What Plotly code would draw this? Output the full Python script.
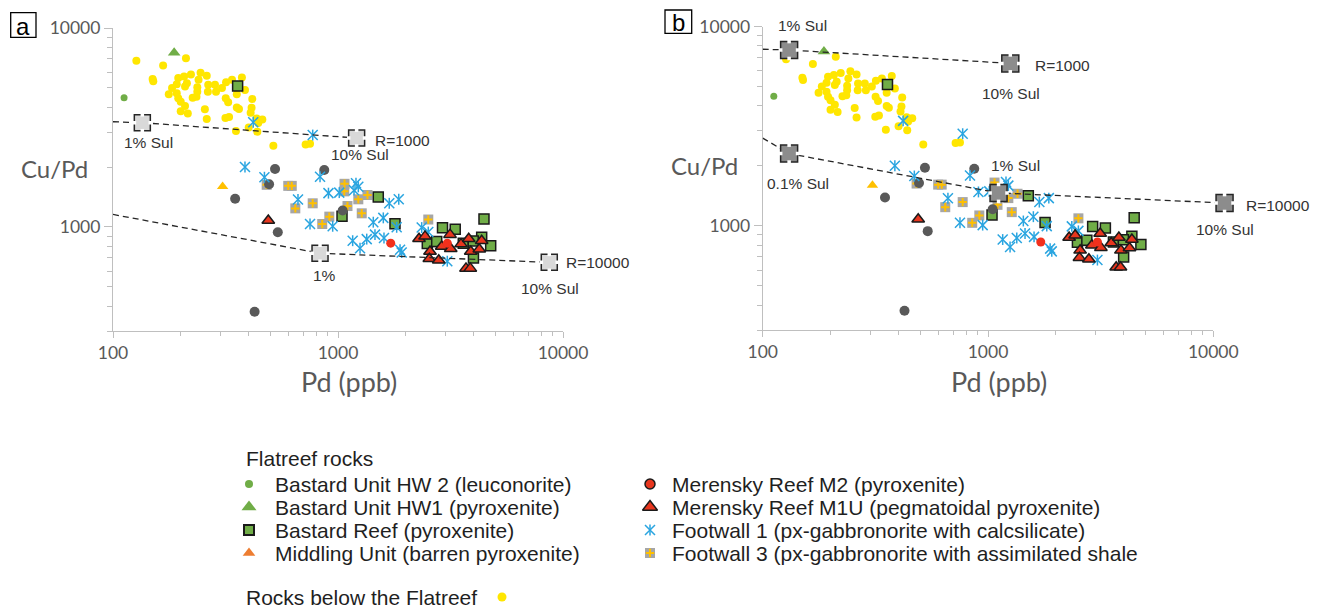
import numpy as np
import plotly.graph_objects as go

W, H = 1320, 610

# ---------------- sample data: Pd (ppb) and Cu/Pd ----------------
below_pd = [127, 167, 211, 150, 151, 195, 207, 222, 245, 261, 192, 213, 240, 265, 284,
            318, 338, 374, 209, 237, 264, 287, 177, 192, 237, 355, 195, 200, 226, 235,
            317, 325, 416, 209, 200, 215, 256, 355, 363, 413, 409, 261, 316, 328, 435,
            461, 442, 401, 352, 438, 516, 718, 751, 183, 305, 386]
below_cupd = [6855, 6486, 7042, 5535, 5395, 5600, 5706, 5843, 5960, 5750, 5220, 5280, 5490, 5180, 5180,
              5345, 5490, 5640, 5080, 5040, 4786, 4786, 4645, 4700, 4786, 4645, 4436, 4260, 4467, 4519,
              4436, 4230, 4397, 4053, 3820, 3720, 3900, 3990, 3912, 3972, 3747, 3492, 3524, 3575, 3508,
              3467, 3334, 3158, 3034, 3013, 2559, 2600, 2620, 5000, 5000, 4886]

hw2_pd = [112]
hw2_cupd = [4467]
hw1_pd = [187]
hw1_cupd = [7500]

reef_pd = [358, 1510, 1042, 1792, 2914, 3319, 4455, 4351, 4771, 4000, 2494, 3604, 3991, 2746]
reef_cupd = [5117, 1415, 1133, 1038, 991, 974, 1098, 887, 805, 698, 827, 829, 851, 846]

m1u_pd = [490, 2291, 2437, 2564, 2546, 2804, 2890, 3147, 3170, 3522, 3810, 3890, 4246, 4351, 3706, 3873]
m1u_cupd = [1078, 873, 897, 753, 692, 680, 798, 915, 777, 820, 873, 753, 773, 853, 619, 619]

m2_pd = [1715, 3060]
m2_cupd = [829, 829]

midd_pd = [307]
midd_cupd = [1596]

gray_pd = [525, 869, 494, 349, 540, 1049, 426]
gray_cupd = [1956, 1933, 1641, 1387, 940, 1211, 375]

fw1_pd = [420, 772, 386, 471, 832, 907, 664, 1013, 1202, 1231, 1178, 1690, 1862, 751, 947,
          1435, 1590, 1162, 1253, 1342, 1460, 1601, 1887, 1823, 2355, 2519, 3060, 1919]
fw1_cupd = [3360, 2897, 2002, 1778, 1788, 1479, 1374, 1488, 1660, 1591, 1531, 1315, 1377, 1035, 1008,
            1057, 1111, 853, 782, 869, 915, 880, 768, 996, 993, 943, 673, 744]

fw3_pd = [482, 601, 623, 646, 772, 915, 851, 1069, 1066, 1102, 1231, 1352, 1275, 2519, 2671]
fw3_cupd = [1629, 1609, 1609, 1240, 1315, 1127, 1035, 1648, 1510, 1274, 1377, 1448, 1171, 1090, 836]

# ---------------- model curves ----------------
a_r1000_pd = [100, 135, 1210]
a_r1000_cupd = [3380, 3340, 2800]
a_r1000_marks = [1, 2]
a_r10000_pd = [100, 832, 8690]
a_r10000_cupd = [1156, 738, 664]
a_r10000_marks = [1, 2]

b_r1000_pd = [100, 131, 1256]
b_r1000_cupd = [7690, 7620, 6530]
b_r1000_marks = [1, 2]
b_r10000_pd = [100, 131, 1114, 11220]
b_r10000_cupd = [2754, 2303, 1462, 1301]
b_r10000_marks = [1, 2, 3]

x_major = [100, 1000, 10000]
x_major_text = ["100", "1000", "10000"]
y_major = [1000, 10000]
y_major_text = ["1000", "10000"]
x_minor = [d * m for d in (100, 1000) for m in range(2, 10)]
y_minor = [100 * m for m in range(3, 10)] + [1000 * m for m in range(2, 10)]

# ---------------- legend entries ----------------
legend_col1 = ["Bastard Unit HW 2 (leuconorite)", "Bastard Unit HW1 (pyroxenite)",
               "Bastard Reef (pyroxenite)", "Middling Unit (barren pyroxenite)"]
legend_col2 = ["Merensky Reef M2 (pyroxenite)", "Merensky Reef M1U (pegmatoidal pyroxenite)",
               "Footwall 1 (px-gabbronorite with calcsilicate)",
               "Footwall 3 (px-gabbronorite with assimilated shale"]

# ---------------- styles ----------------
GREEN = "#70AD47"
YELLOW = "#FFE600"
RED = "#E8361E"
RED2 = "#F2301C"
GOLD = "#FFC000"
ORANGE = "#ED7D31"
DGRAY = "#595959"
BLUE = "#2AA5E0"
FW3GRAY = "#A6A6A6"
AXC = "#BFBFBF"
TXT = "#595959"
LBL = "#333333"

PANELS = {
    "a": dict(x=(113, 563), y=(28, 331)),
    "b": dict(x=(762.7, 1213.3), y=(26.5, 330)),
}
EXTRA_PX = 60  # invisible extension of panel b's x scale, so the model point past 10000 shows


def fx(px):
    return px / W


def fy(py):
    return 1 - py / H


fig = go.Figure()


def sc(x, y, xa, ya, mode="markers", **kw):
    fig.add_trace(go.Scatter(x=x, y=y, mode=mode, xaxis=xa, yaxis=ya, showlegend=False,
                             hoverinfo="skip", cliponaxis=False, **kw))


def star(x, y, xa, ya, size=10, width=1.5):
    sc(x, y, xa, ya, marker=dict(symbol="x-thin-open", size=size, color=BLUE,
                                 line=dict(color=BLUE, width=width)))
    sc(x, y, xa, ya, marker=dict(symbol="line-ns-open", size=size * 0.78, color=BLUE,
                                 line=dict(color=BLUE, width=width)))


def fw3(x, y, xa, ya, size=10):
    sc(x, y, xa, ya, marker=dict(symbol="square", size=size, color=FW3GRAY, line=dict(width=0)))
    sc(x, y, xa, ya, marker=dict(symbol="cross-thin", size=size * 0.6, color=GOLD,
                                 line=dict(color=GOLD, width=2)))


def add_samples(xa, ya):
    sc(below_pd, below_cupd, xa, ya, marker=dict(symbol="circle", size=8, color=YELLOW))
    fw3(fw3_pd, fw3_cupd, xa, ya)
    sc(reef_pd, reef_cupd, xa, ya, marker=dict(symbol="square", size=10, color=GREEN,
                                               line=dict(color="#1a1a1a", width=1.5)))
    sc(gray_pd, gray_cupd, xa, ya, marker=dict(symbol="circle", size=10, color=DGRAY))
    star(fw1_pd, fw1_cupd, xa, ya)
    sc(m1u_pd, m1u_cupd, xa, ya, marker=dict(symbol="triangle-up", size=11, color=RED,
                                             line=dict(color="#1a1a1a", width=1.5)))
    sc(m2_pd, m2_cupd, xa, ya, marker=dict(symbol="circle", size=9, color=RED2))
    sc(midd_pd, midd_cupd, xa, ya, marker=dict(symbol="triangle-up", size=10, color=GOLD))
    sc(hw1_pd, hw1_cupd, xa, ya, marker=dict(symbol="triangle-up", size=11, color=GREEN))
    sc(hw2_pd, hw2_cupd, xa, ya, marker=dict(symbol="circle", size=7, color=GREEN))


def dashed_square(x, y, xa, ya, fill, size):
    sc(x, y, xa, ya, marker=dict(symbol="square", size=size, color=fill,
                                 line=dict(color="#262626", width=1.5)))
    sc(x, y, xa, ya, marker=dict(symbol="cross-thin", size=size * 0.86, color="white",
                                 line=dict(color="white", width=3.5)))
    sc(x, y, xa, ya, marker=dict(symbol="square", size=size - 3.6, color=fill, line=dict(width=0)))


def add_model(xs, ys, marks, fill, size, xa, ya):
    sc(xs, ys, xa, ya, mode="lines", line=dict(color="#262626", width=1.3, dash="6px,4px"))
    dashed_square([xs[i] for i in marks], [ys[i] for i in marks], xa, ya, fill, size)


add_samples("x", "y")
add_model(a_r1000_pd, a_r1000_cupd, a_r1000_marks, "#D9D9D9", 16, "x", "y")
add_model(a_r10000_pd, a_r10000_cupd, a_r10000_marks, "#D9D9D9", 16, "x", "y")

add_samples("x2", "y2")
add_model(b_r1000_pd, b_r1000_cupd, b_r1000_marks, "#8C8C8C", 17, "x4", "y2")
add_model(b_r10000_pd, b_r10000_cupd, b_r10000_marks, "#8C8C8C", 17, "x4", "y2")

# ---------------- legend (drawn in a hidden pixel-space subplot) ----------------
LEG_TOP = 425
ROW_Y = [484, 507, 530, 553]
COL1_KEY, COL1_TXT = 249, 273
COL2_KEY, COL2_TXT = 650, 670
HEAD_X, HEAD_Y = 244, 458
BELOW_Y, BELOW_KEY = 597, 502

k1 = [
    dict(symbol="circle", size=8, color=GREEN),
    dict(symbol="triangle-up", size=13, color=GREEN),
    dict(symbol="square", size=10, color=GREEN, line=dict(color="#1a1a1a", width=2)),
    dict(symbol="triangle-up", size=11, color=ORANGE),
]
for yv, mk in zip(ROW_Y, k1):
    sc([COL1_KEY], [yv], "x3", "y3", marker=mk)

sc([COL2_KEY], [ROW_Y[0]], "x3", "y3",
   marker=dict(symbol="circle", size=10, color=RED, line=dict(color="#1a1a1a", width=1.5)))
sc([COL2_KEY], [ROW_Y[1]], "x3", "y3",
   marker=dict(symbol="triangle-up", size=13, color=RED, line=dict(color="#1a1a1a", width=1.5)))
star([COL2_KEY], [ROW_Y[2]], "x3", "y3", size=10)
fw3([COL2_KEY], [ROW_Y[3]], "x3", "y3", size=10)
sc([BELOW_KEY], [BELOW_Y], "x3", "y3", marker=dict(symbol="circle", size=9, color=YELLOW))

annotations = []
LFONT = dict(family="Liberation Sans, Arial, sans-serif", size=21, color="#1f1f1f")


def leg_text(txt, x, y):
    annotations.append(dict(text=txt, x=x, y=y, xref="x3", yref="y3", xanchor="left",
                            yanchor="middle", showarrow=False, font=LFONT))


leg_text("Flatreef rocks", HEAD_X, HEAD_Y)
for yv, t in zip(ROW_Y, legend_col1):
    leg_text(t, COL1_TXT, yv)
for yv, t in zip(ROW_Y, legend_col2):
    leg_text(t, COL2_TXT, yv)
leg_text("Rocks below the Flatreef", HEAD_X, BELOW_Y)

# ---------------- model-curve labels ----------------
MFONT = dict(family="Liberation Sans, Arial, sans-serif", size=15.5, color=LBL)
model_labels = [
    ("1% Sul", 148, 143), ("10% Sul", 359.5, 155), ("R=1000", 402, 140),
    ("1%", 324, 276), ("R=10000", 598, 262), ("10% Sul", 550, 288),
    ("1% Sul", 803, 25), ("R=1000", 1062, 66), ("10% Sul", 1011, 93),
    ("0.1% Sul", 798, 183), ("1% Sul", 1015, 166), ("R=10000", 1278, 205), ("10% Sul", 1225, 230),
]
for t, px, py in model_labels:
    annotations.append(dict(text=t, x=fx(px), y=fy(py), xref="paper", yref="paper",
                            xanchor="center", yanchor="middle", showarrow=False, font=MFONT))

# ---------------- axis titles and panel letters ----------------
YTFONT = dict(family="Lato, sans-serif", size=24, color=TXT)
XTFONT = dict(family="Lato, sans-serif", size=27, color=TXT)
for t, px, py, f in [("Cu/Pd", 54, 168, YTFONT), ("Pd (ppb)", 349, 381, XTFONT),
                     ("Cu/Pd", 704, 166, YTFONT), ("Pd (ppb)", 999, 381, XTFONT)]:
    annotations.append(dict(text=t, x=fx(px), y=fy(py), xref="paper", yref="paper",
                            xanchor="center", yanchor="middle", showarrow=False, font=f))

shapes = []
for letter, (x0, y0, x1, y1) in [("a", (10.7, 12.7, 36, 37.3)), ("b", (665, 10, 691.7, 33.3))]:
    shapes.append(dict(type="rect", xref="paper", yref="paper", x0=fx(x0), x1=fx(x1),
                       y0=fy(y1), y1=fy(y0), line=dict(color="#000000", width=1.3)))
    annotations.append(dict(text=letter, x=fx((x0 + x1) / 2), y=fy((y0 + y1) / 2 + 1),
                            xref="paper", yref="paper", xanchor="center", yanchor="middle",
                            showarrow=False,
                            font=dict(family="Liberation Sans, Arial, sans-serif", size=24, color="#000")))

# ---------------- axes ----------------
TICKFONT = dict(family="Lato, sans-serif", size=17.5, color=TXT)


def xaxis_cfg(p, anchor):
    return dict(type="log", range=[2, 4], domain=[fx(p["x"][0]), fx(p["x"][1])], anchor=anchor,
                automargin=False,
                showgrid=False, zeroline=False, showline=True, linecolor=AXC, linewidth=1.2,
                ticks="outside", ticklen=6, tickcolor=AXC, tickwidth=1.2,
                tickmode="array", tickvals=x_major, ticktext=x_major_text, tickfont=TICKFONT,
                minor=dict(tickmode="array", tickvals=x_minor, ticks="outside", ticklen=4,
                           tickcolor=AXC, tickwidth=1.2, showgrid=False),
                fixedrange=True)


def yaxis_cfg(p, anchor):
    return dict(type="log", range=[np.log10(300), 4], domain=[fy(p["y"][1]), fy(p["y"][0])],
                anchor=anchor, automargin=False,
                showgrid=False, zeroline=False, showline=True, linecolor=AXC,
                linewidth=1.2, ticks="outside", ticklen=8, tickcolor=AXC, tickwidth=1.2,
                tickmode="array", tickvals=y_major, ticktext=y_major_text, tickfont=TICKFONT,
                minor=dict(tickmode="array", tickvals=y_minor, ticks="outside", ticklen=5,
                           tickcolor=AXC, tickwidth=1.2, showgrid=False),
                fixedrange=True)


pb = PANELS["b"]
px_per_decade_b = (pb["x"][1] - pb["x"][0]) / 2.0

fig.update_layout(
    width=W, height=H, margin=dict(l=0, r=0, t=0, b=0, autoexpand=False),
    paper_bgcolor="white", plot_bgcolor="rgba(0,0,0,0)", showlegend=False,
    xaxis=xaxis_cfg(PANELS["a"], "y"), yaxis=yaxis_cfg(PANELS["a"], "x"),
    xaxis2=xaxis_cfg(pb, "y2"), yaxis2=yaxis_cfg(pb, "x2"),
    xaxis3=dict(domain=[0, 1], range=[0, W], visible=False, fixedrange=True, anchor="y3",
                automargin=False),
    yaxis3=dict(domain=[0, fy(LEG_TOP)], range=[H, LEG_TOP], visible=False, fixedrange=True,
                anchor="x3", automargin=False),
    xaxis4=dict(type="log", domain=[fx(pb["x"][0]), fx(pb["x"][1] + EXTRA_PX)],
                range=[2, 4 + EXTRA_PX / px_per_decade_b], visible=False, fixedrange=True,
                anchor="y2", automargin=False),
    annotations=annotations, shapes=shapes,
)

fig.write_html("out.html", post_script="document.body.style.margin='0';",
               config={"displayModeBar": False})
